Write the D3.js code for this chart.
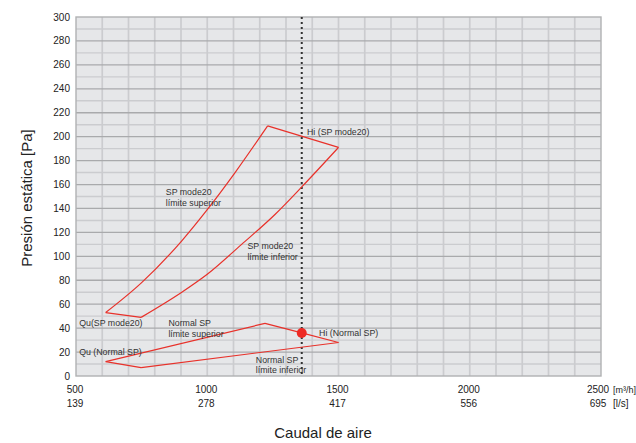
<!DOCTYPE html>
<html><head><meta charset="utf-8">
<script src="https://cdn.jsdelivr.net/npm/d3@7"></script>
<style>body{margin:0;background:#fff}svg{display:block}text{font-family:"Liberation Sans",Arial,sans-serif}</style>
</head><body><svg id="c" width="636" height="443"></svg>
<script>
// ---- data ----
const xTicks = [500, 1000, 1500, 2000, 2500];
const xTicksLs = ["139", "278", "417", "556", "695"];
const yTicks = d3.range(0, 301, 20);
// SP mode20 envelope
const spUpper = [[613,53],[750,78],[903,113],[1000,139],[1106,170],[1230,209]];
const spHi = [[1230,209],[1500,191]];
const spLower = [[748,49],[903,70],[1000,85],[1131,110],[1258,135],[1360,158],[1500,191]];
const spQu = [[613,53],[748,49]];
// Normal SP envelope
const nUpper = [[613,12],[1220,44]];
const nHi = [[1220,44],[1360,36],[1500,28]];
const nLower = [[748,7],[1500,28]];
const nQu = [[613,12],[748,7]];
const opPoint = [1360, 36];
const refFlow = 1360;
const labels = [
  {x:1380, y:201.6, lines:["Hi (SP mode20)"]},
  {x:842, y:151, lines:["SP mode20","límite superior"]},
  {x:1153, y:106, lines:["SP mode20","límite inferior"]},
  {x:512, y:41.8, lines:["Qu(SP mode20)"]},
  {x:852, y:41.8, lines:["Normal SP","límite superior"]},
  {x:512, y:17.5, lines:["Qu (Normal SP)"]},
  {x:1185, y:11.1, lines:["Normal SP","límite inferior"]},
  {x:1426, y:33.7, lines:["Hi (Normal SP)"]}
];

const svg = d3.select("#c");
const L=76, R=601, T=17, B=376;
const x = d3.scaleLinear().domain([500,2500]).range([L,R]);
const y = d3.scaleLinear().domain([0,300]).range([B,T]);

svg.append("rect").attr("x",L).attr("y",T).attr("width",R-L).attr("height",B-T).attr("fill","#e6e7e9");

const g = svg.append("g");
g.selectAll("line.v").data(d3.range(600,2500,100)).join("line")
  .attr("x1",d=>x(d)).attr("x2",d=>x(d)).attr("y1",T).attr("y2",B)
  .attr("stroke","#cbcccf").attr("stroke-width",1.7);
g.selectAll("line.hm").data(d3.range(10,300,20)).join("line")
  .attr("x1",L).attr("x2",R).attr("y1",d=>y(d)).attr("y2",d=>y(d))
  .attr("stroke","#cbcccf").attr("stroke-width",1.4);
g.selectAll("line.hM").data(d3.range(20,300,20)).join("line")
  .attr("class","hM")
  .attr("x1",L).attr("x2",R).attr("y1",d=>y(d)).attr("y2",d=>y(d))
  .attr("stroke","#a9aaac").attr("stroke-width",1.3);
svg.append("rect").attr("x",L).attr("y",T).attr("width",R-L).attr("height",B-T)
  .attr("fill","none").attr("stroke","#b0b1b3").attr("stroke-width",1.4);

svg.append("g").selectAll("text").data(yTicks).join("text")
  .attr("x",70).attr("y",d=>y(d)).attr("dy","0.35em").attr("text-anchor","end")
  .attr("font-size",10).attr("fill","#222").text(d=>d);
const xl = svg.append("g");
const xoff = (i)=> i===xTicks.length-1 ? -3 : -1;
xl.selectAll("text.a").data(xTicks).join("text").attr("class","a")
  .attr("x",(d,i)=>x(d)+xoff(i)).attr("y",393).attr("text-anchor","middle")
  .attr("font-size",10).attr("fill","#222").text(d=>d);
xl.selectAll("text.b").data(xTicksLs).join("text").attr("class","b")
  .attr("x",(d,i)=>x(xTicks[i])+xoff(i)).attr("y",407).attr("text-anchor","middle")
  .attr("font-size",10).attr("fill","#222").text(d=>d);
svg.append("text").attr("x",636).attr("y",393).attr("text-anchor","end").attr("font-size",9).attr("fill","#222").text("[m³/h]");
svg.append("text").attr("x",613).attr("y",407).attr("font-size",10).attr("fill","#222").text("[l/s]");

svg.append("text").attr("x",323).attr("y",438).attr("text-anchor","middle")
  .attr("font-size",15).attr("fill","#222").text("Caudal de aire");
svg.append("text").attr("transform","translate(32,198) rotate(-90)").attr("text-anchor","middle")
  .attr("font-size",15).attr("fill","#222").text("Presión estática [Pa]");

svg.append("line").attr("x1",x(refFlow)).attr("x2",x(refFlow)).attr("y1",y(300)).attr("y2",y(0))
  .attr("stroke","#333").attr("stroke-width",2).attr("stroke-dasharray","2,3");

const red = "#e8312a";
const lineC = d3.line().x(d=>x(d[0])).y(d=>y(d[1])).curve(d3.curveMonotoneX);
const lineL = d3.line().x(d=>x(d[0])).y(d=>y(d[1]));
[spUpper, spLower].forEach(s=>svg.append("path").attr("d",lineC(s)).attr("fill","none").attr("stroke",red).attr("stroke-width",1.2));
[spHi, spQu, nUpper, nHi, nLower, nQu].forEach(s=>svg.append("path").attr("d",lineL(s)).attr("fill","none").attr("stroke",red).attr("stroke-width",1.2));
svg.append("circle").attr("cx",x(opPoint[0])).attr("cy",y(opPoint[1])).attr("r",5).attr("fill","#ee2a24");

labels.forEach(l=>{
  const t = svg.append("text").attr("x",x(l.x)).attr("y",y(l.y)).attr("font-size",8.8).attr("fill","#333");
  l.lines.forEach((s,i)=>t.append("tspan").attr("x",x(l.x)).attr("dy",i?10.7:0).text(s));
});
</script></body></html>
